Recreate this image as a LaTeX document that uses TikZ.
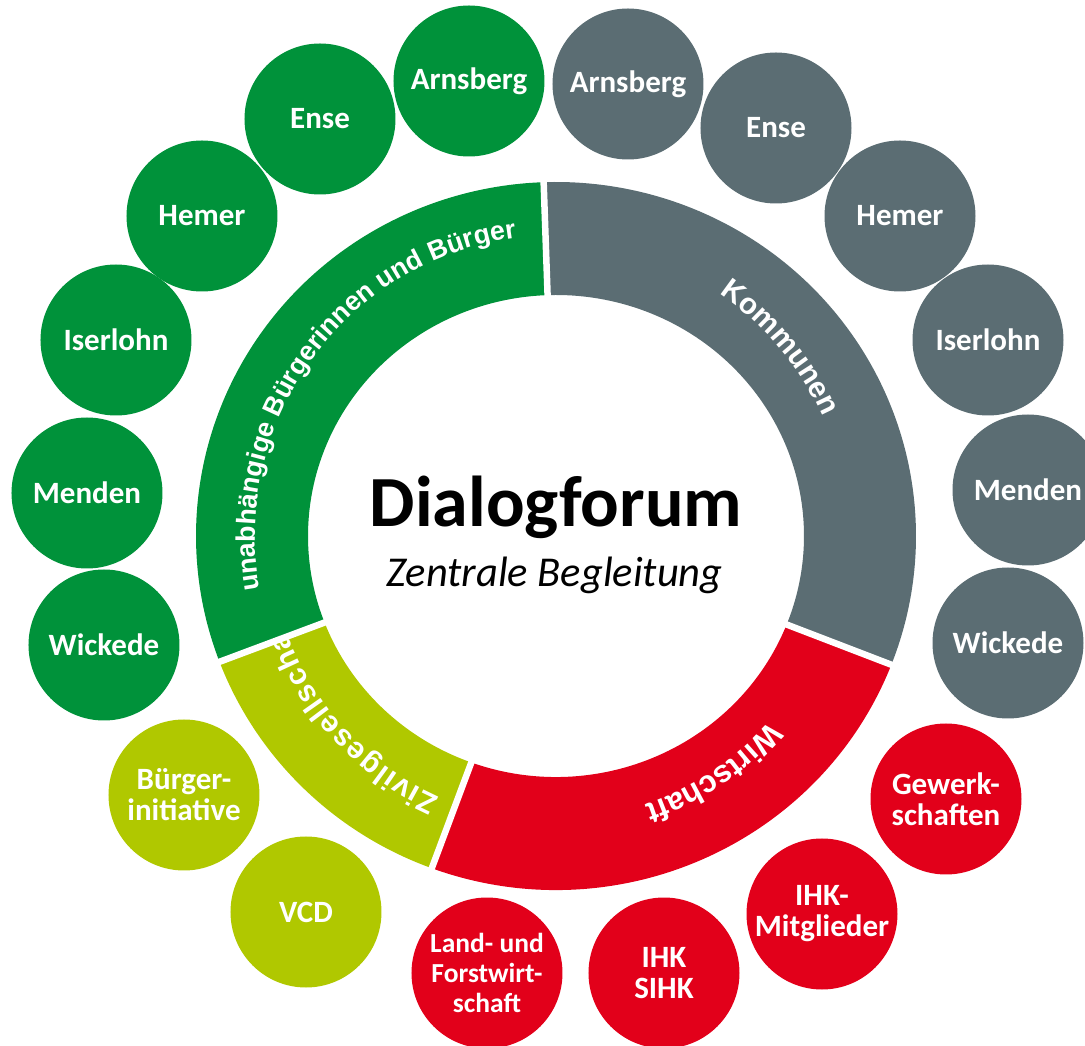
\documentclass[tikz,border=0pt]{standalone}
\usepackage{fontspec}
\setmainfont{Carlito}
\newfontfamily\ringfont{Liberation Sans}
\usetikzlibrary{decorations.text}

\definecolor{forumgreen}{RGB}{0,146,58}
\definecolor{forumlime}{RGB}{176,200,0}
\definecolor{forumred}{RGB}{226,0,26}
\definecolor{forumgray}{RGB}{91,109,115}

\tikzset{
    town/.style={circle, minimum size=151, inner sep=0pt, text=white, align=center,
        font=\bfseries\fontsize{31}{31}\selectfont},
    ringlabel/.style={decorate, decoration={text along path, text align=fit to path, text color=white}},
}

\begin{document}
\begin{tikzpicture}[x=1pt, y=1pt]

    \useasboundingbox (-556,-510) rectangle (529,536);

    %% Ring

    % Segments
    \foreach \col/\from/\to in {forumgreen/92/200.5, forumlime/200.5/249.5, forumred/249.5/339, forumgray/-21/92}
        \fill[\col] (\from:360 and 354) arc[start angle=\from, end angle=\to, x radius=360, y radius=354]
            -- (\to:248 and 241) arc[start angle=\to, end angle=\from, x radius=248, y radius=241] -- cycle;

    % Labels
    \path[ringlabel, decoration={text={|\ringfont\bfseries\fontsize{26.8}{26.8}\selectfont|unabhängige Bürgerinnen und Bürger}}]
        (190.3:301) arc[start angle=190.3, end angle=97.5, radius=301];
    \path[ringlabel, decoration={text={|\ringfont\bfseries\fontsize{29.5}{29.5}\selectfont|Kommunen}}]
        (56:292) arc[start angle=56, end angle=24, radius=292];
    \path[ringlabel, decoration={text={|\ringfont\bfseries\fontsize{31}{31}\selectfont|Wirtschaft}}]
        (319:283) arc[start angle=319, end angle=289, radius=283];
    \begin{scope}
        \clip (200.5:360 and 354) arc[start angle=200.5, end angle=249.5, x radius=360, y radius=354]
            -- (249.5:248 and 241) arc[start angle=249.5, end angle=200.5, x radius=248, y radius=241] -- cycle;
        \path[ringlabel, decoration={text={|\ringfont\bfseries\fontsize{30}{30}\selectfont|Zivilgesellschaft}}]
            (246:286) arc[start angle=246, end angle=195, radius=286];
    \end{scope}

    % Gaps
    \foreach \a in {92, 200.5, 249.5, 339}
        \draw[white, line width=6.5] (\a:230) -- (\a:375);

    %% Centre
    \node (title) [anchor=base, font=\bfseries\fontsize{72}{72}\selectfont] at (0,9) {Dialogforum};
    \node (subtitle) [anchor=base, font=\itshape\fontsize{42.5}{42.5}\selectfont] at (-1.5,-51) {Zentrale Begleitung};

    %% Citizens
    \begin{scope}[every node/.style={town, fill=forumgreen}]
        \node (gArnsberg) at (-87,455) {Arnsberg};
        \node (gEnse) at (-236,417) {Ense};
        \node (gHemer) at (-354,320) {Hemer};
        \node (gIserlohn) at (-440,196) {Iserlohn};
        \node (gMenden) at (-469,43) {Menden};
        \node (gWickede) at (-452,-109) {Wickede};
    \end{scope}

    %% Municipalities
    \begin{scope}[every node/.style={town, fill=forumgray}]
        \node (kArnsberg) at (72,452) {Arnsberg};
        \node (kEnse) at (220,408) {Ense};
        \node (kHemer) at (344,320) {Hemer};
        \node (kIserlohn) at (432,196) {Iserlohn};
        \node (kMenden) at (472,46) {Menden};
        \node (kWickede) at (452,-107) {Wickede};
    \end{scope}

    %% Civil society
    \begin{scope}[every node/.style={town, fill=forumlime}]
        \node (initiative) at (-372,-259) {Bürger-\\initiative};
        \node (vcd) at (-250,-376) {VCD};
    \end{scope}

    %% Economy
    \begin{scope}[every node/.style={town, fill=forumred}]
        \node (forst) at (-69,-437) [font=\bfseries\fontsize{27.5}{30}\selectfont] {Land- und\\Forstwirt-\\schaft};
        \node (ihk) at (108,-437) {IHK\\SIHK};
        \node (members) at (266,-378) {IHK-\\Mitglieder};
        \node (unions) at (390,-263) {Gewerk-\\schaften};
    \end{scope}

\end{tikzpicture}
\end{document}
